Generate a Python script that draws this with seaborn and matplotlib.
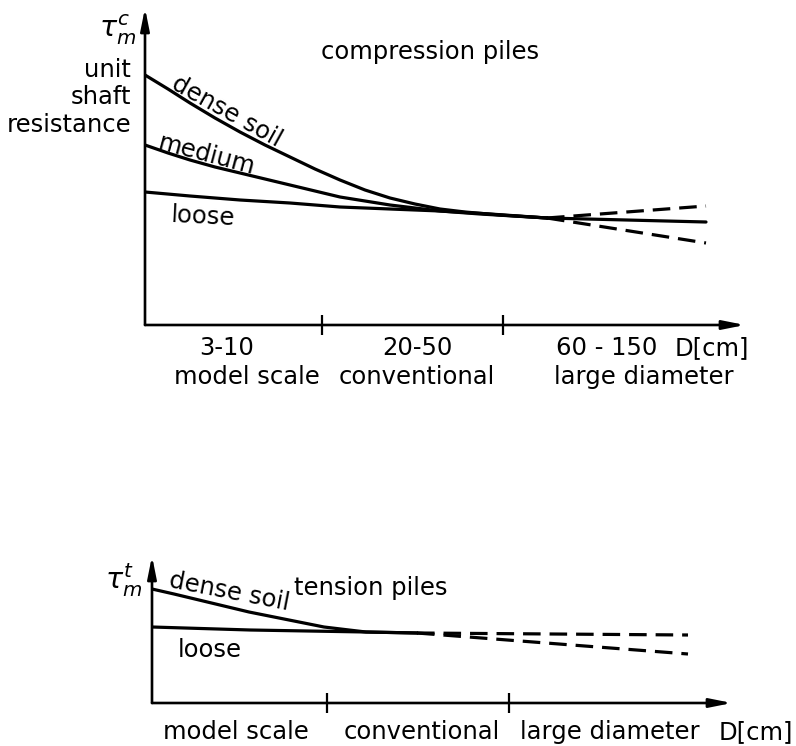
import matplotlib
matplotlib.use("Agg")
import matplotlib.pyplot as plt
import seaborn as sns
import pandas as pd

# ---------------- data (schematic, arbitrary units) ----------------
# compression piles
comp_dense_x = [0, 23, 45, 70, 95, 120, 145, 170, 195, 220, 245, 270, 295, 320, 355, 402]
comp_dense_y = [250, 236, 222, 207, 193, 180, 168, 156, 145, 135, 127, 121, 116, 113, 110, 107]
comp_medium_x = [0, 23, 45, 70, 95, 120, 145, 170, 195, 220, 245, 270, 295, 335, 402]
comp_medium_y = [180, 172, 165, 158, 152, 146, 140, 134, 128, 124, 120, 117, 114, 111, 107]
comp_loose_x = [0, 45, 95, 145, 195, 245, 295, 345, 402]
comp_loose_y = [133, 129, 125, 122, 118, 116, 114, 111, 107]
comp_ext_x = [402, 561]
comp_ext_solid_y = [107, 103]
comp_ext_upper_y = [107, 119]
comp_ext_lower_y = [107, 82]
comp_ticks = [177, 358]

# tension piles
tens_dense_x = [0, 22, 47, 72, 97, 122, 147, 172, 197, 214, 265]
tens_dense_y = [114, 109, 103, 97, 91, 86, 81, 76, 73, 71, 70]
tens_loose_x = [0, 98, 214, 265]
tens_loose_y = [76, 73, 71, 70]
tens_ext_x = [265, 536]
tens_ext_upper_y = [70, 68]
tens_ext_lower_y = [70, 49]
tens_ticks = [175, 357]

top_ranges = ["3-10", "20-50", "60 - 150"]
top_classes = ["model scale", "conventional", "large diameter"]
bottom_classes = ["model scale", "conventional", "large diameter"]

# ---------------- figure ----------------
sns.set_theme(style="white")
plt.rcParams["font.family"] = ["DejaVu Sans"]
plt.rcParams["text.color"] = "black"
W, H = 796, 746
fig = plt.figure(figsize=(W / 100, H / 100), dpi=100)
fig.patch.set_facecolor("white")

FS = 17.5
LW = 2.3


def ax_at(x0, y0, x1, y1):
    # pixel box: left x0, origin y0 (bottom), right x1, top y1
    return fig.add_axes([x0 / W, (H - y0) / H, (x1 - x0) / W, (y0 - y1) / H])


def ftext(x, y, s, **kw):
    kw.setdefault("fontsize", FS)
    kw.setdefault("ha", "center")
    kw.setdefault("va", "center")
    fig.text(x / W, 1 - y / H, s, color="black", **kw)


def atext(ax, x, y, s, rot=0):
    ax.text(x, y, s, rotation=rot, rotation_mode="anchor", ha="center",
            va="center", fontsize=FS, color="black")


def setup(ax, xmax, ymax, ticks):
    ax.set_xlim(0, xmax)
    ax.set_ylim(0, ymax)
    ax.set_facecolor("none")
    for s in ax.spines.values():
        s.set_visible(False)
    ax.set_xticks(ticks)
    ax.set_xticklabels([])
    ax.set_yticks([])
    ax.tick_params(axis="x", direction="inout", length=14, width=1.6,
                   color="black", bottom=True)
    ax.grid(False)
    ap = dict(arrowstyle="-|>,head_length=1.1,head_width=0.22",
              lw=1.9, color="black", shrinkA=0, shrinkB=0)
    ax.annotate("", xy=(1, 0), xytext=(0, 0), xycoords="axes fraction",
                arrowprops=ap)
    ax.annotate("", xy=(0, 1), xytext=(0, 0), xycoords="axes fraction",
                arrowprops=ap)


def line(ax, x, y, dashed=False):
    df = pd.DataFrame({"x": x, "y": y})
    sns.lineplot(data=df, x="x", y="y", ax=ax, color="black", lw=LW,
                 sort=False, estimator=None,
                 linestyle=(0, (5.5, 2.8)) if dashed else "-")


# ---- top: compression piles ----
ax1 = ax_at(145, 325, 745, 8)
setup(ax1, 600, 317, comp_ticks)
line(ax1, comp_dense_x, comp_dense_y)
line(ax1, comp_medium_x, comp_medium_y)
line(ax1, comp_loose_x, comp_loose_y)
line(ax1, comp_ext_x, comp_ext_solid_y)
line(ax1, comp_ext_x, comp_ext_upper_y, dashed=True)
line(ax1, comp_ext_x, comp_ext_lower_y, dashed=True)
ax1.set_xlabel("")
ax1.set_ylabel("")

atext(ax1, 82, 214, "dense soil", rot=-29)
atext(ax1, 62, 170, "medium", rot=-15)
atext(ax1, 58, 108, "loose", rot=-3)

ftext(430, 52, "compression piles")
ftext(118, 30, r"$\tau_m^c$", fontsize=FS + 3)
ftext(131, 70, "unit", ha="right")
ftext(131, 97, "shaft", ha="right")
ftext(131, 125, "resistance", ha="right")

for xc, s in zip([227, 417, 607], top_ranges):
    ftext(xc, 348, s)
ftext(712, 348, "D[cm]")
for xc, s in zip([247, 417, 644], top_classes):
    ftext(xc, 377, s)

# ---- bottom: tension piles ----
ax2 = ax_at(152, 703, 732, 556)
setup(ax2, 580, 147, tens_ticks)
line(ax2, tens_dense_x, tens_dense_y)
line(ax2, tens_loose_x, tens_loose_y)
line(ax2, tens_ext_x, tens_ext_upper_y, dashed=True)
line(ax2, tens_ext_x, tens_ext_lower_y, dashed=True)
ax2.set_xlabel("")
ax2.set_ylabel("")

atext(ax2, 77, 111, "dense soil", rot=-11)
atext(ax2, 58, 53, "loose")

ftext(124, 580, r"$\tau_m^t$", fontsize=FS + 3)
ftext(371, 588, "tension piles")
for xc, s in zip([236, 422, 610], bottom_classes):
    ftext(xc, 732, s)
ftext(756, 732, "D[cm]")

fig.savefig("out.png", dpi=100, facecolor="white")
